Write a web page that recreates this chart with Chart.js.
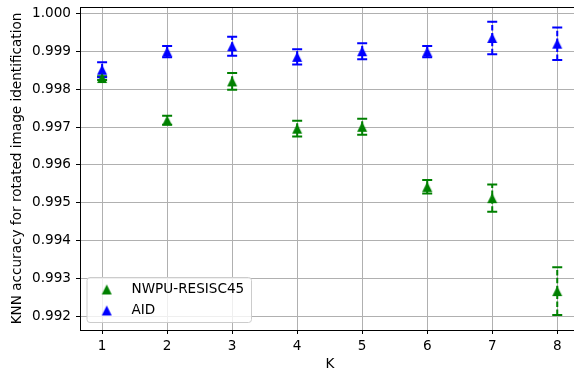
<!DOCTYPE html>
<html>
<head>
<meta charset="utf-8">
<script src="https://cdn.jsdelivr.net/npm/chart.js@4/dist/chart.umd.min.js"></script>
<style>
html,body{margin:0;padding:0;background:#fff;overflow:hidden;}
#wrap{width:574px;height:373px;overflow:hidden;}
</style>
</head>
<body>
<div id="wrap"><canvas id="c" width="580" height="373"></canvas></div>
<script>
// ---- data ----
const kValues = [1, 2, 3, 4, 5, 6, 7, 8];
const nwpuMean = [0.99830, 0.99718, 0.99821, 0.99696, 0.99701, 0.99542, 0.99512, 0.99266];
const nwpuErr  = [0.00005, 0.00012, 0.00022, 0.00021, 0.00021, 0.00018, 0.00036, 0.00063];
const aidMean  = [0.99852, 0.99900, 0.99914, 0.99886, 0.99901, 0.99900, 0.99936, 0.99921];
const aidErr   = [0.00020, 0.00015, 0.00025, 0.00020, 0.00021, 0.00015, 0.00043, 0.00043];
const yTicks   = [0.992, 0.993, 0.994, 0.995, 0.996, 0.997, 0.998, 0.999, 1.000];
const seriesLabels = ['NWPU-RESISC45', 'AID'];
const seriesColors = ['#008000', '#0000ff'];

const FONT = 'DejaVu Sans';
const FS = 13.6;

function triangleImage(color) {
  const c = document.createElement('canvas');
  c.width = 12; c.height = 12;
  const g = c.getContext('2d');
  g.fillStyle = color;
  g.beginPath();
  g.moveTo(6, 1);
  g.lineTo(1, 11);
  g.lineTo(11, 11);
  g.closePath();
  g.fill();
  return c;
}
const markers = seriesColors.map(triangleImage);

function toPoints(means) {
  return kValues.map((k, i) => ({x: k, y: means[i]}));
}
function zeroPad(s) {
  s.paddingTop = 0; s.paddingBottom = 0; s.paddingLeft = 0; s.paddingRight = 0;
}

const errorBarPlugin = {
  id: 'errorBars',
  beforeDatasetsDraw(chart) {
    const ctx = chart.ctx;
    const xs = chart.scales.x, ys = chart.scales.y;
    const errs = [nwpuErr, aidErr];
    const means = [nwpuMean, aidMean];
    ctx.save();
    for (let s = 0; s < 2; s++) {
      ctx.strokeStyle = seriesColors[s];
      ctx.lineWidth = 2;
      for (let i = 0; i < kValues.length; i++) {
        const px = xs.getPixelForValue(kValues[i]);
        const yt = ys.getPixelForValue(means[s][i] + errs[s][i]);
        const yb = ys.getPixelForValue(means[s][i] - errs[s][i]);
        ctx.setLineDash([5.5, 2.4]);
        ctx.beginPath();
        ctx.moveTo(px, yb);
        ctx.lineTo(px, yt);
        ctx.stroke();
        ctx.setLineDash([]);
        ctx.beginPath();
        ctx.moveTo(px - 5, yt); ctx.lineTo(px + 5, yt);
        ctx.moveTo(px - 5, yb); ctx.lineTo(px + 5, yb);
        ctx.stroke();
      }
    }
    ctx.restore();
  },
  afterDraw(chart) {
    const ctx = chart.ctx;
    const a = chart.chartArea;
    ctx.save();
    // top and right spines
    ctx.strokeStyle = '#000';
    ctx.lineWidth = 1;
    ctx.beginPath();
    ctx.moveTo(a.left, a.top + 0.5);
    ctx.lineTo(a.right - 0.5, a.top + 0.5);
    ctx.lineTo(a.right - 0.5, a.bottom);
    ctx.stroke();
    // legend
    const lx = 87, ly = 277.5, lw = 164.5, lh = 45;
    const r = 3;
    ctx.beginPath();
    ctx.moveTo(lx + r, ly);
    ctx.lineTo(lx + lw - r, ly);
    ctx.quadraticCurveTo(lx + lw, ly, lx + lw, ly + r);
    ctx.lineTo(lx + lw, ly + lh - r);
    ctx.quadraticCurveTo(lx + lw, ly + lh, lx + lw - r, ly + lh);
    ctx.lineTo(lx + r, ly + lh);
    ctx.quadraticCurveTo(lx, ly + lh, lx, ly + lh - r);
    ctx.lineTo(lx, ly + r);
    ctx.quadraticCurveTo(lx, ly, lx + r, ly);
    ctx.closePath();
    ctx.fillStyle = 'rgba(255,255,255,0.8)';
    ctx.fill();
    ctx.strokeStyle = '#cccccc';
    ctx.lineWidth = 1;
    ctx.stroke();
    ctx.font = FS + 'px "' + FONT + '"';
    ctx.fillStyle = '#000';
    ctx.textBaseline = 'middle';
    ctx.textAlign = 'left';
    const rows = [289.5, 310.5];
    for (let s = 0; s < 2; s++) {
      ctx.drawImage(markers[s], 106.7 - 6, rows[s] - 6);
      ctx.fillText(seriesLabels[s], 131.5, rows[s]);
    }
    ctx.restore();
  }
};

new Chart(document.getElementById('c'), {
  type: 'scatter',
  data: {
    datasets: [
      {label: seriesLabels[0], data: toPoints(nwpuMean), pointStyle: markers[0], pointRadius: 6, pointHoverRadius: 6, backgroundColor: seriesColors[0], borderColor: seriesColors[0], showLine: false},
      {label: seriesLabels[1], data: toPoints(aidMean), pointStyle: markers[1], pointRadius: 6, pointHoverRadius: 6, backgroundColor: seriesColors[1], borderColor: seriesColors[1], showLine: false}
    ]
  },
  options: {
    responsive: false,
    animation: false,
    events: [],
    layout: {autoPadding: false, padding: {top: 7, right: 0, left: 0, bottom: 0}},
    plugins: {legend: {display: false}, tooltip: {enabled: false}},
    scales: {
      x: {
        type: 'linear',
        min: 0.66, max: 8.35,
        afterBuildTicks: s => { s.ticks = kValues.map(v => ({value: v})); },
        afterFit: s => { s.height = 43; zeroPad(s); },
        grid: {color: '#b0b0b0', lineWidth: 1, drawTicks: true, tickLength: 4, tickColor: '#000'},
        border: {display: true, color: '#000', width: 1},
        ticks: {color: '#000', font: {family: FONT, size: FS}, padding: 4, maxRotation: 0, callback: v => String(v)},
        title: {display: true, text: 'K', color: '#000', font: {family: FONT, size: FS}, padding: {top: 0, bottom: 0}}
      },
      y: {
        type: 'linear',
        min: 0.99163, max: 1.00018,
        afterBuildTicks: s => { s.ticks = yTicks.map(v => ({value: v})); },
        afterFit: s => { s.width = 80; zeroPad(s); },
        grid: {color: '#b0b0b0', lineWidth: 1, drawTicks: true, tickLength: 4, tickColor: '#000'},
        border: {display: true, color: '#000', width: 1},
        ticks: {color: '#000', font: {family: FONT, size: FS}, padding: 5, callback: v => Number(v).toFixed(3)},
        title: {display: true, text: 'KNN accuracy for rotated image identification', color: '#000', font: {family: FONT, size: FS}, padding: {top: 9, bottom: 0}}
      }
    }
  },
  plugins: [errorBarPlugin]
});
</script>
</body>
</html>
